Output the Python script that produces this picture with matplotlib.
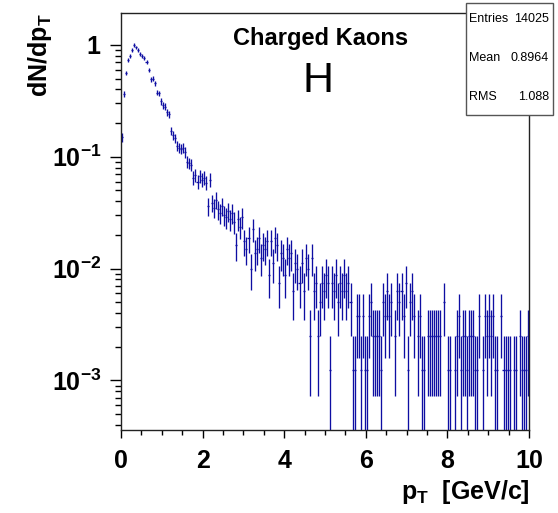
import numpy as np
import matplotlib
matplotlib.use("Agg")
import matplotlib.pyplot as plt
from matplotlib.ticker import LogLocator, MultipleLocator, NullFormatter, FuncFormatter
from matplotlib.patches import Rectangle

plt.rcParams['font.family'] = ['Liberation Sans', 'DejaVu Sans']
plt.rcParams['mathtext.fontset'] = 'custom'
plt.rcParams['mathtext.rm'] = 'Liberation Sans'
plt.rcParams['mathtext.bf'] = 'Liberation Sans:bold'
plt.rcParams['mathtext.it'] = 'Liberation Sans:italic'

# counts per 0.05 GeV/c bin, pT from 0 to 10 GeV/c
counts = [
    120, 290, 450, 590, 640, 720, 800, 760, 720, 665,
    640, 610, 560, 480, 395, 400, 365, 300, 295, 250,
    230, 225, 200, 192, 136, 125, 118, 100, 96, 94,
    96, 88, 72, 70, 68, 52, 55, 48, 54, 50,
    52, 47, 29, 50, 31, 28, 33, 27, 25, 29,
    24, 23, 26, 22, 25, 21, 13, 22, 19, 23,
    14, 12, 15, 8, 18, 11, 12, 15, 10, 13,
    12, 14, 7, 14, 9, 15, 13, 6, 11, 10,
    7, 12, 10, 11, 5, 9, 8, 6, 9, 5,
    10, 8, 2, 10, 5, 6, 2, 4, 6, 5,
    7, 6, 1, 6, 5, 7, 4, 6, 5, 7,
    5, 6, 4, 1, 1, 3, 3, 1, 3, 1,
    1, 3, 4, 2, 2, 2, 2, 1, 4, 3,
    5, 3, 4, 0, 2, 5, 4, 5, 3, 6,
    1, 4, 5, 3, 0, 2, 3, 1, 1, 0,
    2, 2, 2, 2, 2, 2, 2, 0, 4, 0,
    1, 1, 0, 1, 2, 3, 1, 2, 2, 1,
    2, 2, 2, 1, 1, 3, 0, 1, 3, 2,
    3, 2, 3, 1, 1, 0, 3, 1, 1, 1,
    1, 0, 1, 1, 0, 2, 1, 1, 1, 2,
]
bin_width = 0.05
peak_count = 800.0   # histogram scaled so that the maximum is 1

stats_names = ["Entries", "Mean", "RMS"]
stats_values = ["14025", "0.8964", "1.088"]

ytick_vals = [1e-3, 1e-2, 1e-1, 1]
ytick_text = [r'$\mathbf{10^{-3}}$', r'$\mathbf{10^{-2}}$', r'$\mathbf{10^{-1}}$', r'$\mathbf{1}$']

c = np.array(counts, dtype=float)
edges = np.arange(len(c) + 1) * bin_width
centers = 0.5 * (edges[:-1] + edges[1:])
m = c > 0
yv = c[m] / peak_count
hi = (c[m] + np.sqrt(c[m])) / peak_count
lo = np.clip((c[m] - np.sqrt(c[m])) / peak_count, 1e-7, None)

W, H = 558, 513
fig = plt.figure(figsize=(W / 100, H / 100), dpi=100)
ax = fig.add_axes([121 / W, (H - 430) / H, 408 / W, 417 / H])

col = '#0e0ea2'
ax.vlines(centers[m], lo, hi, color=col, lw=0.95)
ax.hlines(yv, edges[:-1][m], edges[1:][m], color=col, lw=0.95)

ax.set_yscale('log')
ax.set_xlim(0, 10)
ax.set_ylim(3.6e-4, 1.93)

ax.xaxis.set_major_locator(MultipleLocator(2))
ax.xaxis.set_minor_locator(MultipleLocator(0.5))
ax.xaxis.set_major_formatter(FuncFormatter(lambda v, p: '%d' % round(v)))
ax.set_yticks(ytick_vals)
ax.set_yticklabels(ytick_text)
ax.yaxis.set_minor_locator(LogLocator(base=10, subs=np.arange(2, 10)))
ax.yaxis.set_minor_formatter(NullFormatter())

ax.tick_params(axis='x', which='major', direction='out', length=6, width=1, pad=8,
               labelsize=18, top=False)
ax.tick_params(axis='x', which='minor', direction='out', length=3.5, width=1, top=False)
ax.tick_params(axis='y', which='major', direction='out', length=8, width=1, pad=6,
               labelsize=18, right=False)
ax.tick_params(axis='y', which='minor', direction='out', length=4.5, width=1, right=False)
for lab in ax.get_xticklabels():
    lab.set_fontweight('bold')
for s in ax.spines.values():
    s.set_linewidth(1)
    s.set_color('#222222')

ax.text(0.49, 0.94, 'Charged Kaons', transform=ax.transAxes, ha='center', va='center',
        fontsize=17, fontweight='bold')
ax.text(0.483, 0.838, 'H', transform=ax.transAxes, ha='center', va='center', fontsize=31)

fig.text(40 / W, 1 - 55 / H, r'$\mathbf{dN/dp_T}$', rotation=90, ha='center', va='center',
         fontsize=18)
fig.text(530 / W, 1 - 492 / H, r'$\mathbf{p_T}$  [GeV/c]', ha='right', va='center',
         fontsize=18, fontweight='bold')

# stats box
fig.patches.append(Rectangle((466 / W, 1 - 115 / H), 87 / W, 112 / H,
                             transform=fig.transFigure, facecolor='white',
                             edgecolor='#555555', lw=1, zorder=5))
for i in range(3):
    yy = 1 - (19 + 39 * i) / H
    fig.text(469 / W, yy, stats_names[i], ha='left', va='center', fontsize=9, zorder=6)
    fig.text(549 / W, yy, stats_values[i], ha='right', va='center', fontsize=9, zorder=6)

fig.savefig('out.png', dpi=100)
